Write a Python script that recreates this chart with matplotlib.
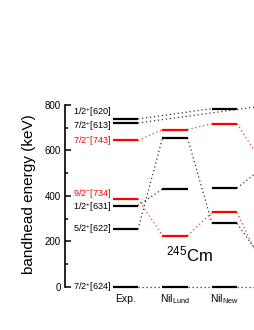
import numpy as np
import matplotlib
matplotlib.use('Agg')
import matplotlib.pyplot as plt

plt.rcParams['font.family'] = ['Liberation Sans', 'DejaVu Sans']
plt.rcParams['mathtext.fontset'] = 'custom'
plt.rcParams['mathtext.rm'] = 'Liberation Sans'
plt.rcParams['mathtext.it'] = 'Liberation Sans:italic'

# column names (x = 1, 2, 3); column 4 lies outside the cropped view
columns = ['Exp.', r'Nil$_{\mathrm{Lund}}$', r'Nil$_{\mathrm{New}}$']

# experimental bandheads (keV)
exp_E = [0, 253, 357, 387, 644, 721, 739]
exp_red = [False, False, False, True, True, False, False]
exp_labels = [r'7/2$^{+}$[624]', r'5/2$^{+}$[622]', r'1/2$^{+}$[631]',
              r'9/2$^{-}$[734]', r'7/2$^{-}$[743]', r'7/2$^{+}$[613]',
              r'1/2$^{+}$[620]']
label_E = [0, 253, 350, 412, 644, 706, 768]

lund_E = [0, 225, 430, 655, 692]
lund_red = [False, True, False, False, True]

new_E = [0, 279, 327, 434, 718, 784]
new_red = [False, False, True, False, True, False]

# dotted connectors: (from column, energy, to column, energy, red?)
links = [
    (1, 0, 2, 0, False), (2, 0, 3, 0, False), (3, 0, 4, 0, False),
    (1, 253, 2, 655, False), (2, 655, 3, 279, False), (3, 279, 4, 125, False),
    (1, 357, 2, 430, False), (3, 434, 4, 521, False),
    (1, 387, 2, 225, True), (2, 225, 3, 327, True), (3, 327, 4, 100, True),
    (1, 644, 2, 692, True), (2, 692, 3, 718, True), (3, 718, 4, 550, True),
    (1, 739, 3, 784, False), (1, 721, 4, 795, False),
]

hw = 0.253
fig = plt.figure(figsize=(2.55, 3.3), dpi=100)
ax = fig.add_axes([0.255, 0.1036, 0.745, 0.5919])
ax.set_xlim(-0.222, 3.616)
ax.set_ylim(-40, 820)

for x0, e0, x1, e1, red in links:
    ax.plot([x0 + hw, x1 - hw], [e0, e1], color='red' if red else 'black',
            lw=0.9, ls=(0, (1, 2.2)), alpha=0.8)

for x, energies, reds in [(1, exp_E, exp_red), (2, lund_E, lund_red), (3, new_E, new_red)]:
    for e, r in zip(energies, reds):
        ax.plot([x - hw, x + hw], [e, e], color='red' if r else 'black', lw=1.6,
                solid_capstyle='butt')

for lab, e, r in zip(exp_labels, label_E, exp_red):
    ax.text(1 - hw - 0.04, e, lab, ha='right', va='center', fontsize=6.6,
            color='red' if r else 'black')

for i, c in enumerate(columns):
    ax.text(i + 1, -55, c, ha='center', va='center', fontsize=7.5, clip_on=False)

ax.text(2.29, 140, r'$^{245}$Cm', ha='center', va='center', fontsize=12)

for s in ['top', 'right', 'bottom']:
    ax.spines[s].set_visible(False)
ax.spines['left'].set_bounds(0, 800)
ax.spines['left'].set_linewidth(1.2)
ax.set_xticks([])
ax.set_yticks([0, 200, 400, 600, 800])
ax.set_yticks([100, 300, 500, 700], minor=True)
ax.tick_params(axis='y', which='major', direction='in', length=4, width=1.1, labelsize=7, pad=3)
ax.tick_params(axis='y', which='minor', direction='in', length=2.5, width=1.1)
ax.set_ylabel('bandhead energy (keV)', fontsize=11)
ax.yaxis.set_label_coords(-0.155, 0.521)

fig.savefig('out.png', dpi=100)
